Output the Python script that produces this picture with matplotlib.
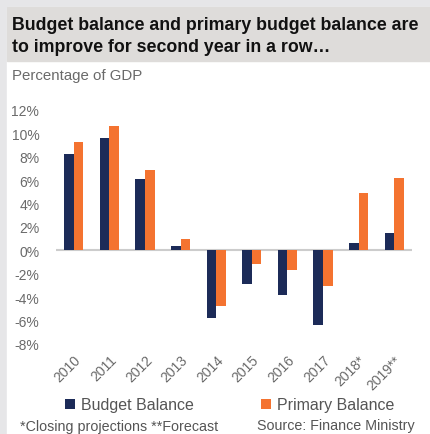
import numpy as np
import matplotlib
matplotlib.use("Agg")
import matplotlib.pyplot as plt
from matplotlib.patches import Rectangle
from matplotlib.ticker import FuncFormatter

plt.rcParams['font.family'] = ['Liberation Sans', 'DejaVu Sans']

years = ["2010", "2011", "2012", "2013", "2014", "2015", "2016", "2017", "2018*", "2019**"]
budget_balance = [8.2, 9.6, 6.1, 0.35, -5.8, -2.9, -3.8, -6.35, 0.65, 1.5]
primary_balance = [9.3, 10.6, 6.9, 1.0, -4.75, -1.2, -1.65, -3.0, 4.9, 6.2]

navy = "#1c2b58"
orange = "#f47330"
grey_txt = "#6a6a6a"

fig = plt.figure(figsize=(4.3, 4.35), dpi=100)

# background strips and title band
fig.patches.append(Rectangle((0, 0), 1, 1, transform=fig.transFigure, color="#e6e6e8", zorder=-3))
fig.patches.append(Rectangle((7/430, 0), 1, 1 - 8/435, transform=fig.transFigure, color="white", zorder=-2))
fig.patches.append(Rectangle((7/430, 1 - 62/435), 1, 54/435, transform=fig.transFigure, color="#dedcda", zorder=-1))

fig.text(12/430, 1 - 26/435, "Budget balance and primary budget balance are",
         fontsize=12.8, fontweight="bold", color="#111111", va="center")
fig.text(12/430, 1 - 48/435, "to improve for second year in a row\u2026",
         fontsize=12.8, fontweight="bold", color="#111111", va="center")
fig.text(12/430, 1 - 76/435, "Percentage of GDP", fontsize=10.8, color=grey_txt, va="center")

ax = fig.add_axes([56/430, 1 - 345/435, (412 - 56)/430, 234/435])
x = np.arange(len(years))
w = 0.27
ax.bar(x - w/2, budget_balance, w, color=navy, label="Budget Balance")
ax.bar(x + w/2, primary_balance, w, color=orange, label="Primary Balance")
ax.axhline(0, color="#cccccc", lw=1.5, zorder=0)

ax.set_xlim(-0.5, len(years) - 0.5)
ax.set_ylim(-8, 12)
ax.set_yticks(range(-8, 13, 2))
ax.yaxis.set_major_formatter(FuncFormatter(lambda v, p: f"{int(v)}%"))
ax.set_xticks(x)
ax.set_xticklabels(years, rotation=45, ha="right", rotation_mode="anchor")
for s in ax.spines.values():
    s.set_visible(False)
ax.tick_params(length=0, labelsize=10, labelcolor=grey_txt)
ax.tick_params(axis="y", pad=12)
ax.tick_params(axis="x", pad=6)

ax.legend(loc="upper left", bbox_to_anchor=(51/430, 1 - 384/435), bbox_transform=fig.transFigure,
          ncol=2, frameon=False, fontsize=11.5, labelcolor="#555555", handlelength=0.6,
          handleheight=0.6, handletextpad=0.4, columnspacing=4.2)

fig.text(20/430, 1 - 427/435, "*Closing projections **Forecast", fontsize=10.3, color="#555555", va="center")
fig.text(257/430, 1 - 426/435, "Source: Finance Ministry", fontsize=10.3, color="#555555", va="center")

fig.savefig("out.png", dpi=100)
